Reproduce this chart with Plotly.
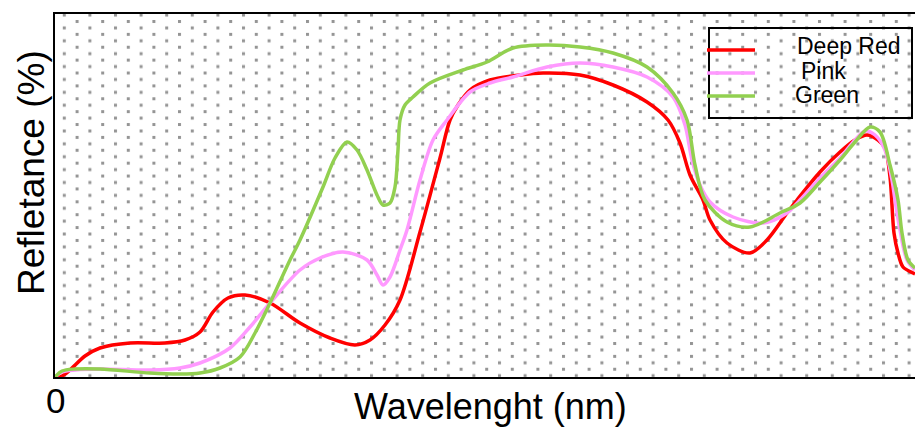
import base64
import plotly.graph_objects as go

# ---------------- data (arbitrary units) ----------------
red_x = [0, 7, 15, 30, 45, 75, 110, 130, 145, 158, 173, 190, 215, 245, 275, 300, 315, 330, 345,
         365, 385, 395, 403, 415, 435, 465, 488, 525, 558, 592, 613, 625, 635, 648, 655, 672, 695,
         712, 732, 742, 765, 785, 800, 812, 823, 830, 835, 839, 843, 848, 858, 860]
red_y = [0, 1, 7, 21, 29, 34, 34, 37, 45, 65, 79, 82, 74, 54, 39, 32, 37, 52, 77,
         145, 219, 257, 272, 287, 297, 302, 304, 302, 292, 275, 257, 234, 202, 177, 157, 134, 124,
         137, 164, 177, 205, 225, 237, 242, 237, 229, 200, 144, 124, 110, 104, 103]

pink_x = [0, 7, 20, 45, 95, 125, 145, 175, 195, 215, 245, 265, 288, 312, 322, 328, 335, 345,
          352, 365, 378, 392, 415, 435, 458, 492, 525, 558, 592, 618, 630, 637, 645, 655, 678,
          708, 732, 745, 765, 785, 800, 810, 820, 830, 837, 840, 845, 852, 860]
pink_y = [0, 5, 7, 8, 7, 9, 14, 29, 50, 74, 107, 119, 125, 117, 102, 92, 100, 127,
          147, 197, 237, 257, 285, 294, 300, 310, 314, 310, 300, 280, 252, 217, 192, 175, 160,
          154, 164, 177, 199, 219, 237, 246, 242, 227, 197, 177, 147, 117, 107]

green_x = [0, 7, 20, 45, 95, 125, 145, 165, 185, 200, 215, 235, 245, 268, 280, 292, 302, 312,
           322, 328, 335, 340, 343, 345, 350, 358, 375, 408, 432, 458, 492, 525, 558, 592, 618,
           632, 640, 650, 672, 695, 725, 745, 765, 785, 800, 815, 825, 835, 843, 847, 853, 860]
green_y = [0, 6, 8, 8, 4, 3, 4, 9, 20, 44, 74, 117, 137, 190, 219, 235, 227, 207,
           182, 172, 174, 190, 227, 257, 272, 280, 294, 307, 315, 329, 332, 330, 324, 310, 284,
           257, 212, 177, 155, 150, 164, 174, 195, 217, 235, 250, 245, 212, 177, 144, 117, 109]

series_names = ["Deep Red", "Pink", "Green"]
series_colors = ["#ff0000", "#ff99ff", "#92d050"]
x_tick_vals = [0]
x_tick_text = ["0"]
x_title = "Wavelenght (nm)"
y_title = "Refletance (%)"

# ---------------- layout geometry (pixels) ----------------
W, H = 915, 430
L, T, R, B = 55, 14, 915, 377
PW, PH = R - L, B - T
FONT = "Liberation Sans, Arial, sans-serif"


def px(x):
    return (x - L) / PW


def py(y):
    return (B - y) / PH


# dotted background as an SVG pattern image
svg = (
    f'<svg xmlns="http://www.w3.org/2000/svg" width="{PW}" height="{PH}">'
    '<defs><pattern id="p" width="25.6" height="12.88" patternUnits="userSpaceOnUse" x="20.6" y="6">'
    '<rect x="0" y="0" width="3" height="3" fill="#959595"/>'
    '<rect x="12.8" y="6.44" width="3" height="3" fill="#959595"/>'
    '</pattern></defs>'
    f'<rect width="{PW}" height="{PH}" fill="url(#p)" shape-rendering="crispEdges"/></svg>'
)
svg_uri = "data:image/svg+xml;base64," + base64.b64encode(svg.encode()).decode()

fig = go.Figure()
for xs, ys, name, col in zip([red_x, pink_x, green_x], [red_y, pink_y, green_y],
                             series_names, series_colors):
    fig.add_trace(go.Scatter(x=xs, y=ys, name=name, mode="lines",
                             line=dict(color=col, width=3.5, shape="spline", smoothing=0.9),
                             showlegend=False, hoverinfo="skip"))

shapes = [dict(type="rect", xref="paper", yref="paper", x0=px(709), x1=px(912), y0=py(118), y1=py(28),
               line=dict(color="black", width=2), fillcolor="rgba(0,0,0,0)")]
annotations = []
leg_y = [50, 73, 96]
leg_text_x = [795, 799, 793]
leg_text_y = [45.5, 71.3, 94.7]
for i, (name, col) in enumerate(zip(series_names, series_colors)):
    shapes.append(dict(type="line", xref="paper", yref="paper", x0=px(707), x1=px(755),
                       y0=py(leg_y[i]), y1=py(leg_y[i]), line=dict(color=col, width=3.5)))
    annotations.append(dict(text=name, xref="paper", yref="paper", x=px(leg_text_x[i]), y=py(leg_text_y[i]),
                            xanchor="left", yanchor="middle", showarrow=False,
                            font=dict(family=FONT, size=23, color="black")))

annotations.append(dict(text=x_title, xref="paper", yref="paper", x=px(490), y=py(406.5),
                        xanchor="center", yanchor="middle", showarrow=False,
                        font=dict(family=FONT, size=36, color="black")))
annotations.append(dict(text=y_title, xref="paper", yref="paper", x=px(31), y=py(173),
                        xanchor="center", yanchor="middle", showarrow=False, textangle=-90,
                        font=dict(family=FONT, size=37, color="black")))
annotations.append(dict(text=x_tick_text[0], xref="paper", yref="paper", x=px(55.5), y=py(400.5),
                        xanchor="center", yanchor="middle", showarrow=False,
                        font=dict(family=FONT, size=35, color="black")))

fig.update_layout(
    width=W, height=H,
    margin=dict(l=L, r=W - R, t=T, b=H - B),
    paper_bgcolor="white", plot_bgcolor="rgba(0,0,0,0)",
    shapes=shapes, annotations=annotations,
    images=[dict(source=svg_uri, xref="paper", yref="paper", x=0, y=1, sizex=1, sizey=1,
                 xanchor="left", yanchor="top", sizing="stretch", layer="below")],
    xaxis=dict(range=[0, 860], showgrid=False, zeroline=False, showline=True, mirror=True,
               linecolor="black", linewidth=2, ticks="", tickvals=x_tick_vals,
               showticklabels=False, fixedrange=True),
    yaxis=dict(range=[0, 363], showgrid=False, zeroline=False, showline=True, mirror=False,
               linecolor="black", linewidth=2, ticks="", showticklabels=False, fixedrange=True),
    showlegend=False,
)

fig.write_html("out.html", config={"displayModeBar": False},
               post_script="document.body.style.margin='0';document.body.style.overflow='hidden';")
